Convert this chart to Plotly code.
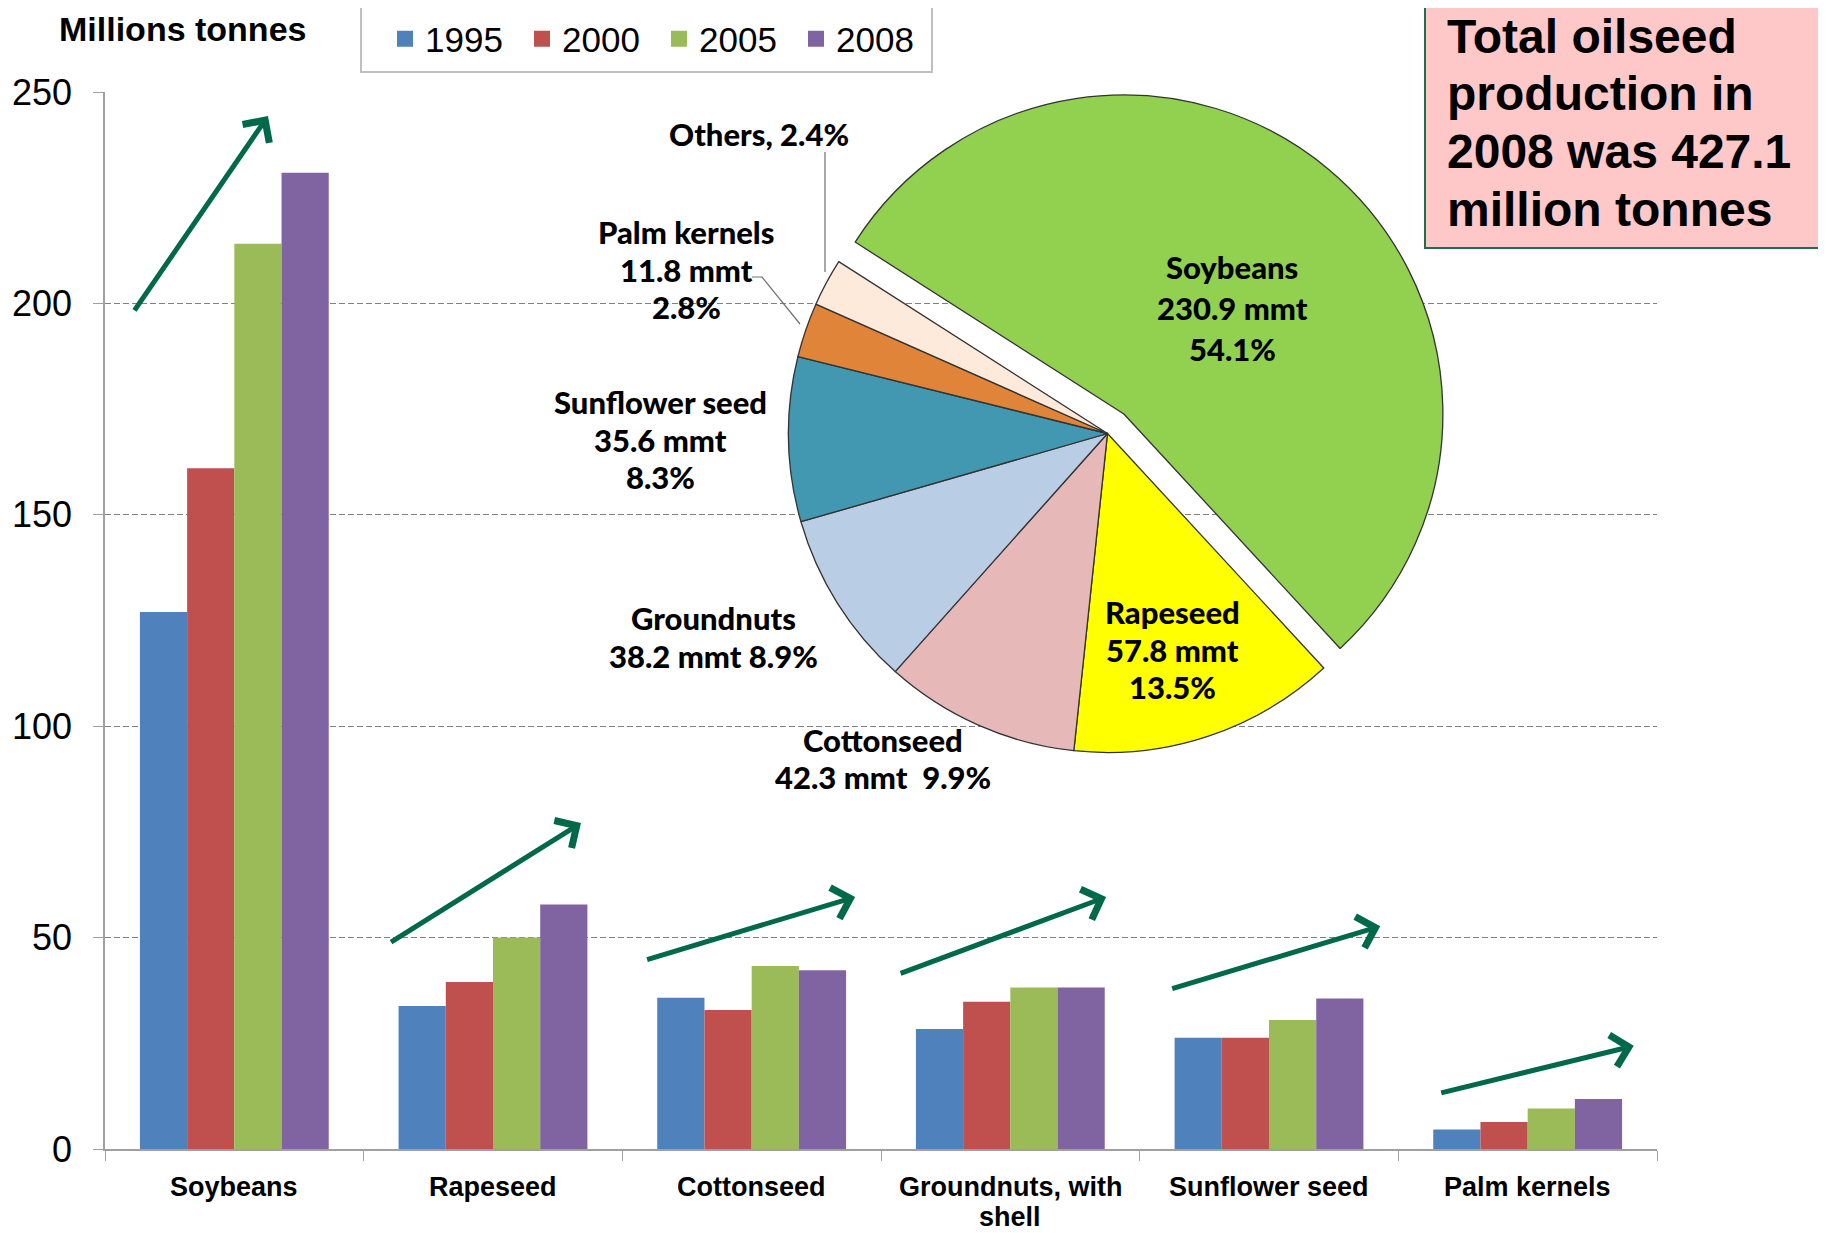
import plotly.graph_objects as go

# ---------------- data ----------------
categories = ["Soybeans", "Rapeseed", "Cottonseed", "Groundnuts, with shell",
              "Sunflower seed", "Palm kernels"]
category_label_lines = [["Soybeans"], ["Rapeseed"], ["Cottonseed"], ["Groundnuts, with", "shell"],
                        ["Sunflower seed"], ["Palm kernels"]]
years = ["1995", "2000", "2005", "2008"]
v1995 = [127.0, 33.8, 35.8, 28.4, 26.3, 4.6]
v2000 = [161.0, 39.5, 32.9, 34.8, 26.3, 6.4]
v2005 = [214.1, 50.0, 43.3, 38.2, 30.5, 9.6]
v2008 = [230.9, 57.8, 42.3, 38.2, 35.6, 11.8]
bar_colors = ["#4F81BD", "#C0504D", "#9BBB59", "#8064A2"]

pie_labels = ["Soybeans", "Rapeseed", "Cottonseed", "Groundnuts",
              "Sunflower seed", "Palm kernels", "Others"]
pie_values = [230.9, 57.8, 42.3, 38.2, 35.6, 11.8, 10.3]
pie_pct = [54.1, 13.5, 9.9, 8.9, 8.3, 2.8, 2.4]
pie_colors = ["#92D050", "#FFFF00", "#E6B9B8", "#B9CDE5", "#4198B0", "#E0843A", "#FDEADA"]

# trend arrows (data units: category index, million tonnes)
arrow_tail_x = [-0.39, 0.60, 1.59, 2.57, 3.62, 4.66]
arrow_tail_y = [198.0, 48.7, 44.7, 41.4, 37.8, 13.2]
arrow_head_x = [0.13, 1.34, 2.40, 3.37, 4.43, 5.41]
arrow_head_y = [244.3, 77.1, 59.6, 59.6, 52.7, 24.4]

total_text = ["Total oilseed", "production in", "2008 was 427.1", "million tonnes"]

# ---------------- layout helpers (screen pixel -> paper) ----------------
OFF = 8                      # default page body margin
W, H = 1818, 1225
ML, MR, MT, MB = 97, 169, 2, 84
PW, PH = W - ML - MR, H - MT - MB


def px(x):
    return (x - OFF - ML) / PW


def py(y):
    return (H - MB - (y - OFF)) / PH


PLOT_TOP = 92
PIE_CX, PIE_CY, PIE_R, PULL = 1107.5, 433.5, 319, 0.08
half = PIE_R * (1 + PULL)

fig = go.Figure()

series = [v1995, v2000, v2005, v2008]
for yr, vals, col in zip(years, series, bar_colors):
    fig.add_trace(go.Bar(x=categories, y=vals, name=yr, marker=dict(color=col, line=dict(width=0)),
                         showlegend=False))
for yr, col in zip(years, bar_colors):
    fig.add_trace(go.Scatter(x=[None], y=[None], mode="markers", name=yr,
                             marker=dict(symbol="square", size=16, color=col)))

fig.add_trace(go.Pie(
    labels=pie_labels, values=pie_values, sort=False, direction="clockwise",
    rotation=-57.4, pull=[PULL] + [0] * (len(pie_values) - 1),
    marker=dict(colors=pie_colors, line=dict(color="#333333", width=1.3)),
    textinfo="none", showlegend=False, hoverinfo="label+value+percent",
    domain=dict(x=[px(PIE_CX - half), px(PIE_CX + half)],
                y=[py(PIE_CY + half), py(PIE_CY - half)]),
))

annotations = []
# trend arrows
for tx, ty, hx, hy in zip(arrow_tail_x, arrow_tail_y, arrow_head_x, arrow_head_y):
    annotations.append(dict(x=hx, y=hy, ax=tx, ay=ty, xref="x", yref="y", axref="x", ayref="y",
                            text="", showarrow=True, arrowhead=4, arrowsize=1.25, arrowwidth=5,
                            arrowcolor="#00694A", standoff=0))

# category labels
for i, lines in enumerate(category_label_lines):
    for t, yy in zip(lines, [1187, 1217]):
        annotations.append(dict(x=i, y=py(yy), xref="x", yref="paper", text=f"<b>{t}</b>",
                                showarrow=False, xanchor="center", yanchor="middle", borderpad=0,
                                font=dict(family="Liberation Sans, Arial", size=27, color="#000")))

# pie labels
label_lines = {
    "Soybeans": [pie_labels[0], f"{pie_values[0]} mmt", f"{pie_pct[0]}%"],
    "Rapeseed": [pie_labels[1], f"{pie_values[1]} mmt", f"{pie_pct[1]}%"],
    "Cottonseed": [pie_labels[2], f"{pie_values[2]} mmt  {pie_pct[2]}%"],
    "Groundnuts": [pie_labels[3], f"{pie_values[3]} mmt {pie_pct[3]}%"],
    "Sunflower seed": [pie_labels[4], f"{pie_values[4]} mmt", f"{pie_pct[4]}%"],
    "Palm kernels": [pie_labels[5], f"{pie_values[5]} mmt", f"{pie_pct[5]}%"],
    "Others": [f"{pie_labels[6]}, {pie_pct[6]}%"],
}
label_pos = {
    "Soybeans": (1232, [267, 308, 349]),
    "Rapeseed": (1172, [612, 650, 687]),
    "Cottonseed": (883, [740, 777]),
    "Groundnuts": (713, [618, 656]),
    "Sunflower seed": (660, [402, 440, 477]),
    "Palm kernels": (686, [232, 270, 307]),
    "Others": (759, [134]),
}
for name, lines in label_lines.items():
    cx, ys = label_pos[name]
    for t, yy in zip(lines, ys):
        annotations.append(dict(x=px(cx), y=py(yy), xref="paper", yref="paper", text=t,
                                showarrow=False, xanchor="center", yanchor="middle",
                                font=dict(family="Lato, Liberation Sans, Arial", size=31,
                                          color="#000000", weight=900)))

# y axis title
annotations.append(dict(x=px(182), y=py(29), xref="paper", yref="paper", text="<b>Millions tonnes</b>",
                        showarrow=False, xanchor="center", yanchor="middle",
                        font=dict(family="Liberation Sans, Arial", size=34, color="#000")))

# total box text
for t, yy in zip(total_text, [37, 94, 151, 209]):
    annotations.append(dict(x=px(1445), y=py(yy), xref="paper", yref="paper", text=f"<b>{t}</b>",
                            showarrow=False, xanchor="left", yanchor="middle",
                            font=dict(family="Liberation Sans, Arial", size=48, color="#000")))

shapes = [
    # legend frame
    dict(type="rect", xref="paper", yref="paper", x0=px(361), x1=px(932), y0=py(72), y1=py(6),
         line=dict(color="#BFBFBF", width=2), fillcolor="rgba(0,0,0,0)", layer="below"),
    # total box
    dict(type="rect", xref="paper", yref="paper", x0=px(1425), x1=px(1840), y0=py(248), y1=py(-10),
         line=dict(color="#1E6E50", width=2), fillcolor="#FFC8C8", layer="above"),
    # leader lines
    dict(type="line", xref="paper", yref="paper", x0=px(825), x1=px(825), y0=py(152), y1=py(272),
         line=dict(color="#6E6E6E", width=1.2)),
    dict(type="path", xref="paper", yref="paper",
         path=f"M{px(752)},{py(277)} L{px(762)},{py(277)} L{px(800)},{py(324)}",
         line=dict(color="#6E6E6E", width=1.2)),
]

fig.update_layout(
    width=W, height=H,
    margin=dict(l=ML, r=MR, t=MT, b=MB, autoexpand=False),
    paper_bgcolor="white", plot_bgcolor="white",
    barmode="group", bargap=0.27, bargroupgap=0,
    font=dict(family="Liberation Sans, Arial", color="#000"),
    xaxis=dict(type="category", showgrid=False, showline=True, linecolor="#A0A0A0", linewidth=1.5,
               ticks="outside", tickson="boundaries", ticklen=10, tickcolor="#A0A0A0",
               showticklabels=False, zeroline=False),
    yaxis=dict(range=[0, 250], dtick=50, domain=[0, py(PLOT_TOP)], showgrid=True,
               gridcolor="#808080", griddash="6px,3px", gridwidth=1,
               showline=True, linecolor="#A0A0A0", linewidth=1.5,
               ticks="outside", ticklen=10, tickcolor="#A0A0A0",
               tickfont=dict(size=36), zeroline=False, ticklabelstandoff=14),
    legend=dict(orientation="h", x=px(385), y=py(39), xanchor="left", yanchor="middle",
                font=dict(size=35), bgcolor="rgba(0,0,0,0)", borderwidth=0,
                entrywidth=92, entrywidthmode="pixels"),
    annotations=annotations, shapes=shapes,
)

fig.write_html("out.html")
